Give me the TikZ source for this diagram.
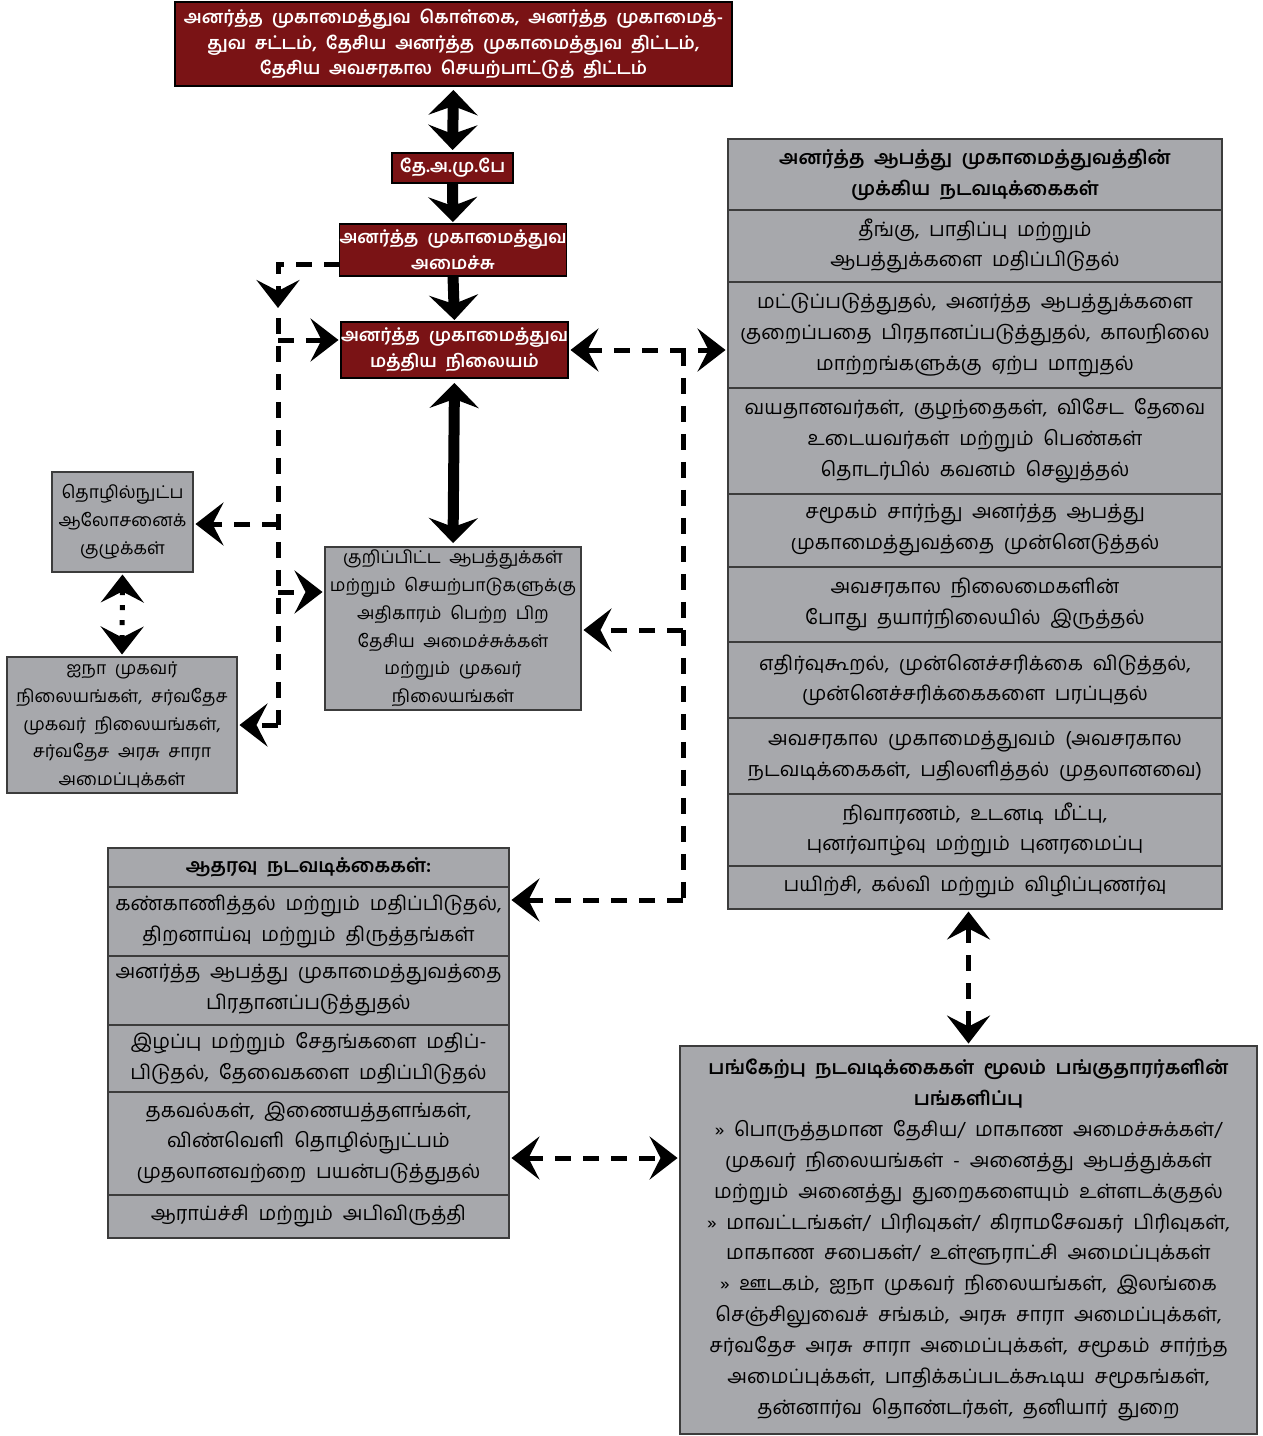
\documentclass[tikz,border=0pt]{standalone}
\usepackage{fontspec}
\setmainfont{Hind Madurai}[Script=Tamil, WordSpace=2]
\usetikzlibrary{arrows.meta}
\definecolor{dmred}{HTML}{7A1315}
\definecolor{dmgrey}{HTML}{A7A8AC}
\definecolor{dmline}{HTML}{3C3C3C}
\newcommand\headfont{\fontsize{10.9}{17.6}\selectfont\bfseries}
\newcommand\bodyfont{\fontsize{11.3}{17.6}\selectfont\mdseries}

\begin{document}
\begin{tikzpicture}
        [x=0.02cm,y=-0.02cm]
        \tikzstyle{every node}=[inner sep=0pt, outer sep=0pt, align=center]
        \tikzstyle{redbox}=[draw=black, line width=0.8pt, fill=dmred, text=white,
        font=\fontsize{10.1}{14.7}\selectfont\bfseries]
        \tikzstyle{greybox}=[draw=dmline, line width=0.8pt, fill=dmgrey,
        font=\fontsize{10}{15.8}\selectfont]
        \tikzstyle{rowbox}=[greybox, font=\bodyfont]
        \tikzstyle{headbox}=[greybox, font=\headfont]
        \tikzstyle{bigboth}=[line width=0.22cm,
        {Stealth[length=0.5cm,width=0.98cm,inset=0.18cm]}-{Stealth[length=0.5cm,width=0.98cm,inset=0.18cm]}]
        \tikzstyle{bigarrow}=[line width=0.22cm, -{Stealth[length=0.5cm,width=0.98cm,inset=0.18cm]}]
        \tikzstyle{dashline}=[line width=0.1cm, dash pattern=on 0.32cm off 0.24cm]
        \tikzstyle{dasharrow}=[dashline, shorten >=0.05cm, -{Stealth[length=0.56cm,width=0.86cm,inset=0.22cm]}]
        \tikzstyle{dashboth}=[dashline, shorten >=0.05cm, shorten <=0.05cm,
        {Stealth[length=0.56cm,width=0.86cm,inset=0.22cm]}-{Stealth[length=0.56cm,width=0.86cm,inset=0.22cm]}]
        \useasboundingbox (0,0) rectangle (1263,1436);
        %-----red chain
         \node[redbox, minimum width=11.14cm, minimum height=1.68cm] (plan) at (453.5,44)
           {அனர்த்த முகாமைத்துவ கொள்கை, அனர்த்த முகாமைத்-\\துவ சட்டம், தேசிய அனர்த்த முகாமைத்துவ திட்டம்,\\தேசிய அவசரகால செயற்பாட்டுத் திட்டம்};
         \node[redbox, minimum width=2.42cm, minimum height=0.6cm] (depb) at (452.5,168) {தே.அ.மு.பே};
         \node[redbox, minimum width=4.52cm, minimum height=1.04cm] (min) at (453,250) {அனர்த்த முகாமைத்துவ\\அமைச்சு};
         \node[redbox, minimum width=4.5cm, minimum height=1.12cm] (dmc) at (454.5,350) {அனர்த்த முகாமைத்துவ\\மத்திய நிலையம்};
        %-----grey boxes
         \node[greybox, minimum width=5.12cm, minimum height=3.26cm] (agencies) at (453,628.5)
           {குறிப்பிட்ட ஆபத்துக்கள்\\மற்றும் செயற்பாடுகளுக்கு\\அதிகாரம் பெற்ற பிற\\தேசிய அமைச்சுக்கள்\\மற்றும் முகவர்\\நிலையங்கள்};
         \node[greybox, minimum width=2.82cm, minimum height=2cm] (tac) at (122.5,522) {தொழில்நுட்ப\\ஆலோசனைக்\\குழுக்கள்};
         \node[greybox, minimum width=4.6cm, minimum height=2.72cm] (un) at (122,725)
           {ஐநா முகவர்\\நிலையங்கள், சர்வதேச\\முகவர் நிலையங்கள்,\\சர்வதேச அரசு சாரா\\அமைப்புக்கள்};
        %-----right panel
         \node[headbox, minimum width=9.88cm, minimum height=1.42cm] (k1) at (975,174.5)
           {அனர்த்த ஆபத்து முகாமைத்துவத்தின்\\முக்கிய நடவடிக்கைகள்};
         \node[rowbox, minimum width=9.88cm, minimum height=1.44cm] (k2) at (975,246) {தீங்கு, பாதிப்பு மற்றும்\\ஆபத்துக்களை மதிப்பிடுதல்};
         \node[rowbox, minimum width=9.88cm, minimum height=2.12cm] (k3) at (975,335)
           {மட்டுப்படுத்துதல், அனர்த்த ஆபத்துக்களை\\குறைப்பதை பிரதானப்படுத்துதல், காலநிலை\\மாற்றங்களுக்கு ஏற்ப மாறுதல்};
         \node[rowbox, minimum width=9.88cm, minimum height=2.12cm] (k4) at (975,441)
           {வயதானவர்கள், குழந்தைகள், விசேட தேவை\\உடையவர்கள் மற்றும் பெண்கள்\\தொடர்பில் கவனம் செலுத்தல்};
         \node[rowbox, minimum width=9.88cm, minimum height=1.46cm] (k5) at (975,530.5) {சமூகம் சார்ந்து அனர்த்த ஆபத்து\\முகாமைத்துவத்தை முன்னெடுத்தல்};
         \node[rowbox, minimum width=9.88cm, minimum height=1.5cm] (k6) at (975,604.5) {அவசரகால நிலைமைகளின்\\போது தயார்நிலையில் இருத்தல்};
         \node[rowbox, minimum width=9.88cm, minimum height=1.52cm] (k7) at (975,680) {எதிர்வுகூறல், முன்னெச்சரிக்கை விடுத்தல்,\\முன்னெச்சரிக்கைகளை பரப்புதல்};
         \node[rowbox, minimum width=9.88cm, minimum height=1.52cm] (k8) at (975,756) {அவசரகால முகாமைத்துவம் (அவசரகால\\நடவடிக்கைகள், பதிலளித்தல் முதலானவை)};
         \node[rowbox, minimum width=9.88cm, minimum height=1.44cm] (k9) at (975,830) {நிவாரணம், உடனடி மீட்பு,\\புனர்வாழ்வு மற்றும் புனரமைப்பு};
         \node[rowbox, minimum width=9.88cm, minimum height=0.86cm] (k10) at (975,887.5) {பயிற்சி, கல்வி மற்றும் விழிப்புணர்வு};
        %-----support panel
         \node[headbox, minimum width=8.02cm, minimum height=0.78cm] (s1) at (308.5,867.5) {ஆதரவு நடவடிக்கைகள்:};
         \node[rowbox, minimum width=8.02cm, minimum height=1.38cm] (s2) at (308.5,921.5) {கண்காணித்தல் மற்றும் மதிப்பிடுதல்,\\திறனாய்வு மற்றும் திருத்தங்கள்};
         \node[rowbox, minimum width=8.02cm, minimum height=1.38cm] (s3) at (308.5,990.5) {அனர்த்த ஆபத்து முகாமைத்துவத்தை\\பிரதானப்படுத்துதல்};
         \node[rowbox, minimum width=8.02cm, minimum height=1.34cm] (s4) at (308.5,1058.5) {இழப்பு மற்றும் சேதங்களை மதிப்-\\பிடுதல், தேவைகளை மதிப்பிடுதல்};
         \node[rowbox, minimum width=8.02cm, minimum height=2.06cm] (s5) at (308.5,1143.5)
           {தகவல்கள், இணையத்தளங்கள்,\\விண்வெளி தொழில்நுட்பம்\\முதலானவற்றை பயன்படுத்துதல்};
         \node[rowbox, minimum width=8.02cm, minimum height=0.86cm] (s6) at (308.5,1216.5) {ஆராய்ச்சி மற்றும் அபிவிருத்தி};
        %-----stakeholders
         \node[rowbox, minimum width=11.54cm, minimum height=7.76cm] (stake) at (968.5,1240)
           {\headfont பங்கேற்பு நடவடிக்கைகள் மூலம் பங்குதாரர்களின்\\\headfont பங்களிப்பு\\
            \bodyfont » பொருத்தமான தேசிய/ மாகாண அமைச்சுக்கள்/\\முகவர் நிலையங்கள் - அனைத்து ஆபத்துக்கள்\\
            மற்றும் அனைத்து துறைகளையும் உள்ளடக்குதல்\\» மாவட்டங்கள்/ பிரிவுகள்/ கிராமசேவகர் பிரிவுகள்,\\
            மாகாண சபைகள்/ உள்ளூராட்சி அமைப்புக்கள்\\» ஊடகம், ஐநா முகவர் நிலையங்கள், இலங்கை\\
            செஞ்சிலுவைச் சங்கம், அரசு சாரா அமைப்புக்கள்,\\சர்வதேச அரசு சாரா அமைப்புக்கள், சமூகம் சார்ந்த\\
            அமைப்புக்கள், பாதிக்கப்படக்கூடிய சமூகங்கள்,\\தன்னார்வ தொண்டர்கள், தனியார் துறை};

         % solid arrows down the middle
         \draw[bigboth, shorten <=0.08cm, shorten >=0.06cm] (plan.south) -- (depb.north);
         \draw[bigarrow, shorten >=0.04cm] (depb.south) -- (min.north);
         \draw[bigarrow, shorten >=0.04cm] (min.south) -- (dmc.north);
         \draw[bigboth, shorten <=0.1cm, shorten >=0.08cm] (dmc.south) -- (agencies.north);

         % left bus
         \coordinate (lt) at (278,264);
         \coordinate (ld) at (278,308);
         \coordinate (ls) at (278,318);
         \coordinate (l1) at (278,340);
         \coordinate (l2) at (278,524);
         \coordinate (l3) at (278,592);
         \coordinate (l4) at (278,725);
         \draw[dasharrow, shorten >=0pt] (min.west |- lt) -- (lt) -- (ld);
         \draw[dashline] (ls) -- (l4);
         \foreach \from/\to in {l1/dmc, l3/agencies}
         \draw[dasharrow] (\from) -- (\from -| \to.west);
         \foreach \from/\to in {l2/tac, l4/un}
         \draw[dasharrow] (\from) -- (\from -| \to.east);
         \draw[dashboth, dash pattern=on 0.1cm off 0.2cm] (tac.south) -- (un.north);

         % right bus
         \coordinate (r0) at (683,350);
         \coordinate (r1) at (683,630);
         \coordinate (r2) at (683,900);
         \coordinate (sh) at (600,1158);
         \draw[dashboth] (dmc.east) -- (dmc.east -| k3.west);
         \draw[dashline] (r0) -- (r2);
         \draw[dasharrow] (r1) -- (r1 -| agencies.east);
         \draw[dasharrow] (r2) -- (r2 -| s2.east);
         \draw[dashboth] (k10.south -| stake.north) -- (stake.north);
         \draw[dashboth] (sh -| s5.east) -- (sh -| stake.west);
\end{tikzpicture}
\end{document}
